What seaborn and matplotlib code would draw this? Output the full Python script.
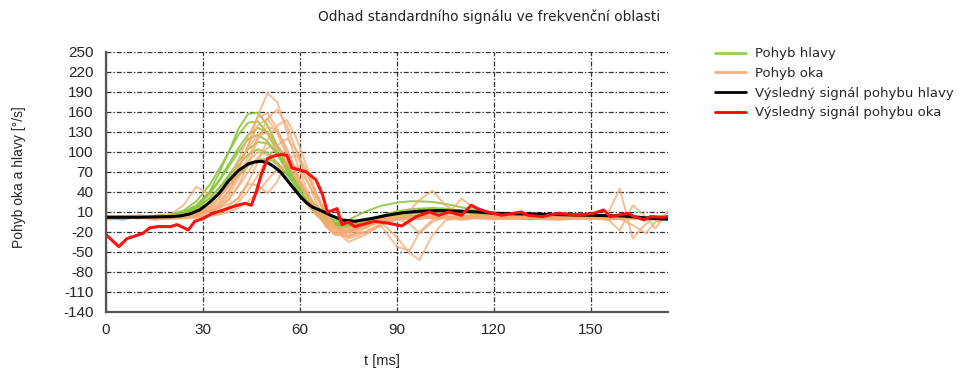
import matplotlib
matplotlib.use('Agg')
import matplotlib.pyplot as plt
from matplotlib.lines import Line2D
import seaborn as sns

# ----- Data -----

t = [0, 5, 10, 15, 20, 24, 28, 32, 35, 38, 41, 44, 47, 50, 53, 56, 59, 62, 65, 68, 71,
     75, 80, 85, 90, 94, 97, 101, 105, 110, 115, 120, 130, 140, 150, 155, 159, 163, 167, 170, 174]

# head movement traces (green)
head_1 = [2, 3, 2, 3, 5, 10, 20, 40, 68, 100, 135, 157, 159, 140, 110, 78, 50, 27, 8, -4, -10,
          -2, 10, 19, 24, 26, 26, 25, 22, 17, 12, 8, 4, 3, 2, 2, 1, 1, 0, 0, 0]
head_2 = [2, 2, 3, 3, 6, 12, 26, 50, 74, 100, 126, 144, 146, 128, 100, 72, 46, 24, 6, -6, -13,
          -12, -5, 4, 11, 14, 15, 16, 15, 12, 9, 6, 4, 3, 2, 2, 1, 1, 1, 0, 0]
head_3 = [3, 3, 2, 4, 5, 9, 19, 38, 58, 82, 106, 126, 136, 130, 108, 82, 56, 34, 14, 0, -9,
          -11, -6, 2, 8, 11, 13, 14, 14, 12, 9, 6, 4, 3, 2, 2, 1, 1, 1, 1, 0]
head_4 = [1, 2, 2, 3, 4, 8, 18, 36, 56, 78, 100, 119, 126, 116, 96, 72, 48, 28, 10, -3, -10,
          -10, -4, 3, 8, 10, 11, 12, 12, 10, 8, 6, 4, 3, 2, 2, 1, 1, 1, 0, 0]
head_5 = [3, 3, 3, 4, 5, 8, 15, 30, 46, 65, 86, 104, 115, 113, 98, 78, 56, 36, 18, 4, -6,
          -9, -5, 2, 7, 9, 10, 11, 11, 10, 8, 6, 4, 3, 2, 2, 2, 1, 1, 1, 1]
head_6 = [2, 2, 3, 3, 5, 8, 16, 30, 45, 62, 80, 96, 104, 99, 84, 66, 46, 28, 12, 0, -7,
          -8, -4, 2, 6, 8, 9, 10, 10, 9, 7, 5, 4, 3, 2, 2, 1, 1, 1, 1, 0]
head_7 = [2, 3, 3, 3, 4, 7, 13, 24, 36, 50, 65, 79, 88, 90, 82, 68, 52, 36, 20, 6, -3,
          -7, -5, 1, 5, 7, 9, 10, 10, 9, 7, 5, 4, 3, 2, 2, 2, 1, 1, 1, 1]

# eye movement traces (orange)
eye_1 = [2, -2, 4, 1, 3, 5, 8, 14, 22, 40, 70, 110, 155, 188, 175, 130, 85, 45, 12, -12, -25,
         -20, -8, -2, 2, 4, 5, 4, 3, 1, 2, 0, 2, -1, 1, 0, 2, -1, 1, 0, 0]
eye_2 = [1, 3, 0, 2, -1, 2, 5, 10, 16, 28, 50, 82, 118, 150, 164, 140, 100, 60, 25, -5, -22,
         -28, -15, -4, 0, 3, 2, 1, 3, 0, 1, -1, 2, 0, 1, -2, 0, 2, 1, 0, 1]
eye_3 = [3, 0, 2, 5, 6, 20, 48, 36, 32, 48, 75, 110, 140, 150, 128, 95, 62, 35, 14, -4, -16,
         -20, -10, -5, -28, -52, -62, -25, -3, 4, 2, 1, 0, 2, 1, 0, 2, 1, 0, 1, 0]
eye_4 = [0, 2, 3, -1, 2, 1, 3, 6, 10, 18, 32, 55, 85, 118, 140, 148, 120, 80, 40, 8, -15,
         -30, -22, -10, -42, -48, -20, -2, 3, 2, 0, 1, -1, 1, 2, 0, -1, 1, 0, 2, 1]
eye_5 = [-2, 1, 3, 2, 4, 3, 6, 12, 20, 35, 60, 92, 122, 138, 132, 105, 70, 38, 10, -10, -22,
         -18, -6, 0, 5, 12, 28, 42, 20, 5, 2, 1, 3, 0, 1, 2, 0, 1, 2, 0, 1]
eye_6 = [3, 4, 1, 3, 2, 5, 10, 18, 30, 50, 78, 106, 126, 128, 108, 82, 58, 36, 16, -2, -14,
         -16, -8, -2, 3, 5, 4, 2, 6, 10, 4, 1, 3, 2, -1, 5, 45, -30, -8, 2, 2]
eye_7 = [0, -1, 2, 0, 1, 0, 2, 5, 8, 14, 25, 42, 65, 90, 110, 120, 102, 72, 38, 8, -18,
         -35, -25, -10, 0, 2, 4, 6, 3, 30, 12, 2, 0, 1, 2, 0, -18, 20, 3, -15, 12]
eye_8 = [2, 1, 4, 2, 3, 4, 7, 12, 18, 30, 48, 70, 92, 106, 110, 92, 66, 40, 18, 0, -14,
         -20, -12, -4, 1, -2, 0, 3, 1, 4, 2, 3, 1, 0, 2, 1, 3, 0, 2, 1, 3]
eye_9 = [1, 3, 2, 4, 3, 2, 5, 10, 16, 22, 30, 52, 50, 38, 55, 90, 95, 70, 35, 5, -15,
         -22, -10, -3, 2, 0, 3, 1, 2, 0, 3, 1, 2, 1, 0, 2, 1, 3, 1, -2, 2]
eye_10 = [4, 2, 5, 3, 4, 6, 9, 16, 26, 42, 64, 86, 100, 96, 80, 60, 40, 22, 6, -8, -16,
          -14, -6, 0, 3, 2, 5, 3, 4, 2, 5, 3, 1, 4, 2, 3, 1, 4, 2, 3, 4]
eye_11 = [-1, 0, 2, -2, 0, 1, 2, 4, 6, 10, 16, 26, 40, 58, 74, 85, 78, 58, 32, 8, -12,
          -26, -20, -8, -2, 1, -1, 2, 0, -2, 1, -1, 0, -2, 1, -1, 0, -10, -22, -5, 0]
eye_12 = [2, 0, 3, 1, 3, 5, 9, 18, 32, 55, 88, 124, 152, 158, 135, 100, 66, 36, 10, -10, -24,
          -26, -12, -4, 0, -8, -22, -5, 2, 5, 3, 1, 2, 0, 3, 1, 2, 4, 0, 2, 1]

# resulting head signal (black)
head_res_t = [0, 10, 20, 23, 26, 29, 32, 35, 38, 41, 44, 46, 48, 50, 52, 54, 56, 58, 60, 62,
              64, 67, 70, 73, 77, 82, 87, 92, 97, 103, 110, 115, 120, 130, 140, 150, 160, 167, 174]
head_res = [2, 2, 3, 4, 7, 13, 24, 38, 57, 72, 82, 85, 86, 84, 78, 70, 58, 46, 34, 24,
            17, 11, 4, -2, -4, 0, 5, 9, 11, 12, 11, 10, 8, 7, 6, 5, 4, 1, -1]

# resulting eye signal (red)
eye_res_t = [0, 4, 6.5, 9, 11.5, 13.5, 16, 20, 22, 25.5, 27.5, 30, 33, 37, 40, 43, 45, 46.5, 48, 50,
             52, 54, 56, 57.5, 60, 62, 65, 67, 68.5, 70, 71.5, 73, 75, 77, 80, 83, 87.5, 91.5, 96, 100,
             103, 106, 110, 113, 115, 118, 122.5, 128.5, 130.5, 135, 140, 146, 151, 154, 156, 161.5,
             163.5, 166.5, 168.5, 172, 174]
eye_res = [-24, -42, -30, -26, -22, -14, -12, -12, -9, -17, -4, 0, 8, 14, 19, 23, 20, 40, 65, 90,
           94, 96, 95, 76, 73, 70, 58, 36, 10, 12, 15, -9, -5, -12, -8, -4, -7, -11, 3, 10,
           5, 10, 5, 20, 15, 10, 5, 10, 5, 3, 8, 5, 8, 13, 3, 8,
           3, -2, 3, 2, 3]

head_traces = [head_1, head_2, head_3, head_4, head_5, head_6, head_7]
eye_traces = [eye_1, eye_2, eye_3, eye_4, eye_5, eye_6, eye_7, eye_8, eye_9, eye_10, eye_11, eye_12]

labels = ['Pohyb hlavy', 'Pohyb oka', 'Výsledný signál pohybu hlavy', 'Výsledný signál pohybu oka']
x_ticks = [0, 30, 60, 90, 120, 150]
y_ticks = [-140, -110, -80, -50, -20, 10, 40, 70, 100, 130, 160, 190, 220, 250]

# ----- Style -----

sns.set_style('white')
plt.rcParams['font.family'] = ['Liberation Sans', 'DejaVu Sans']
plt.rcParams['axes.unicode_minus'] = False

green = '#8DC63F'
orange = '#F4A970'

fig = plt.figure(figsize = (9.63, 3.74), dpi = 100)
ax = fig.add_axes([0.110, 0.166, 0.584, 0.695])

# ----- Traces -----

for y in head_traces:
    sns.lineplot(x = t, y = y, color = green, lw = 1.4, alpha = 0.9, ax = ax, legend = False)

for y in eye_traces:
    sns.lineplot(x = t, y = y, color = orange, lw = 1.4, alpha = 0.75, ax = ax, legend = False)

sns.lineplot(x = head_res_t, y = head_res, color = 'black', lw = 2.2, ax = ax, legend = False)
sns.lineplot(x = eye_res_t, y = eye_res, color = '#FF1010', lw = 2.2, ax = ax, legend = False)

# ----- Axes -----

ax.set_xlim(0, 174); ax.set_ylim(-140, 250)
ax.set_xticks(x_ticks); ax.set_yticks(y_ticks)
ax.grid(True, color = '#333333', lw = 0.9, linestyle = (0, (4, 1.5, 1.2, 1.5)))
ax.set_axisbelow(True)

for side in ['top', 'right']:
    ax.spines[side].set_visible(False)
for side in ['left', 'bottom']:
    ax.spines[side].set_color('#555555')
    ax.spines[side].set_linewidth(1.6)

ax.tick_params(axis = 'y', direction = 'out', length = 8, width = 1.2, color = '#555555', labelsize = 11, pad = 1)
ax.tick_params(axis = 'x', direction = 'out', length = 4, width = 1.2, color = '#555555', labelsize = 11, pad = 4)

ax.set_xlabel('t [ms]', fontsize = 10.5)
ax.set_ylabel('Pohyb oka a hlavy [°/s]', fontsize = 10)
ax.xaxis.set_label_coords(0.49, -0.16)
ax.yaxis.set_label_coords(-0.143, 0.52)

fig.text(0.508, 0.955, 'Odhad standardního signálu ve frekvenční oblasti',
         ha = 'center', va = 'center', fontsize = 9.9, family = ['DejaVu Sans'], color = '#222222')

# ----- Legend -----

handles = [Line2D([], [], color = '#92D050', lw = 2),
           Line2D([], [], color = '#F4B183', lw = 2),
           Line2D([], [], color = 'black', lw = 2),
           Line2D([], [], color = '#FF0000', lw = 2)]

fig.legend(handles, labels, loc = 'upper left', bbox_to_anchor = (0.742, 0.873), frameon = False,
           borderaxespad = 0, borderpad = 0, handlelength = 2.4, handletextpad = 0.65,
           labelspacing = 0.5, prop = {'family': 'DejaVu Sans', 'size': 9.5})

fig.savefig('out.png', dpi = 100)
